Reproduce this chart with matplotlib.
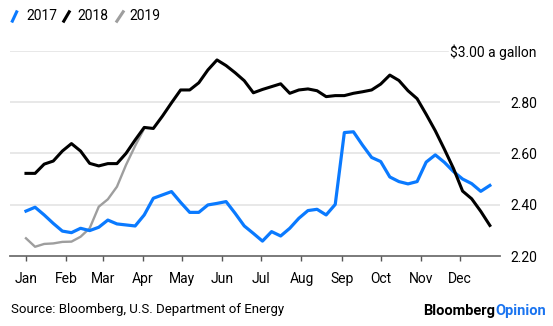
import numpy as np
import matplotlib
matplotlib.use('Agg')
import matplotlib.pyplot as plt
from matplotlib.lines import Line2D

plt.rcParams['font.family'] = ['Roboto', 'DejaVu Sans']

# weekly average prices, $ per gallon (week 0 = first week of Jan)
p2017 = [2.375, 2.390, 2.360, 2.327, 2.297, 2.291, 2.308, 2.299, 2.312, 2.340,
         2.325, 2.321, 2.317, 2.360, 2.425, 2.438, 2.451, 2.409, 2.370, 2.370,
         2.399, 2.405, 2.412, 2.366, 2.317, 2.288, 2.258, 2.295, 2.278, 2.308,
         2.347, 2.377, 2.382, 2.360, 2.401, 2.681, 2.684, 2.632, 2.584, 2.568,
         2.508, 2.490, 2.481, 2.490, 2.566, 2.594, 2.565, 2.529, 2.500, 2.482,
         2.452, 2.475]
p2018 = [2.522, 2.522, 2.558, 2.570, 2.609, 2.638, 2.609, 2.561, 2.551, 2.560,
         2.560, 2.600, 2.652, 2.701, 2.697, 2.745, 2.797, 2.847, 2.847, 2.875,
         2.925, 2.964, 2.942, 2.914, 2.883, 2.836, 2.849, 2.860, 2.871, 2.834,
         2.847, 2.851, 2.844, 2.821, 2.825, 2.825, 2.834, 2.840, 2.847, 2.870,
         2.905, 2.884, 2.844, 2.813, 2.752, 2.688, 2.616, 2.541, 2.453, 2.423,
         2.374, 2.319]
p2019 = [2.269, 2.236, 2.247, 2.249, 2.255, 2.256, 2.275, 2.308, 2.392, 2.421,
         2.470, 2.555, 2.629, 2.697]

months = ['Jan', 'Feb', 'Mar', 'Apr', 'May', 'Jun', 'Jul', 'Aug', 'Sep', 'Oct', 'Nov', 'Dec']
month_days = [0, 31, 59, 90, 120, 151, 181, 212, 243, 273, 304, 334]
yticks = [2.2, 2.4, 2.6, 2.8, 3.0]
ylabels = ['2.20', '2.40', '2.60', '2.80', '$3.00 a gallon']

c17, c18, c19 = '#0a7aff', '#000000', '#9e9e9e'

W, H = 553, 326
def px(x, y):
    return x / W, 1 - y / H

fig = plt.figure(figsize=(W / 100, H / 100), dpi=100)
ax = fig.add_axes([10 / W, (H - 256) / H, 490 / W, (256 - 50.7) / H])
ax.set_xlim(-12.3, 364.8)
ax.set_ylim(2.2, 3.0)

for t in yticks[1:-1]:
    ax.axhline(t, color='#e4e4e4', lw=1.2, zorder=0)
ax.axhline(3.0, xmax=0.894, color='#e4e4e4', lw=1.2, zorder=0)
ax.axhline(2.2, color='#707070', lw=1.3, zorder=1, clip_on=False)

ax.plot(np.arange(len(p2017)) * 7, p2017, color=c17, lw=2.3, zorder=3, clip_on=False)
ax.plot(np.arange(len(p2018)) * 7, p2018, color=c18, lw=2.2, zorder=4, clip_on=False)
ax.plot(np.arange(len(p2019)) * 7, p2019, color=c19, lw=1.7, zorder=2, clip_on=False)

for s in ax.spines.values():
    s.set_visible(False)

ax.set_xticks(month_days)
ax.set_xticklabels(months)
ax.tick_params(axis='x', length=3.6, width=1, color='#555555', pad=8, labelsize=10)

ax.yaxis.tick_right()
ax.set_yticks(yticks)
ax.set_yticklabels(ylabels)
ax.tick_params(axis='y', length=0, pad=26.6, labelsize=10)
for lbl in ax.get_yticklabels():
    lbl.set_horizontalalignment('right')

# legend with slash markers
for x0, x1, tx, col, lab in [(11.7, 17.3, 26.7, c17, '2017'),
                             (63, 70, 77.3, c18, '2018'),
                             (116, 124, 129.3, c19, '2019')]:
    (a, b), (c, d) = px(x0, 22.5), px(x1, 10.5)
    fig.add_artist(Line2D([a, c], [b, d], color=col, lw=2.2, solid_capstyle='butt'))
    fig.text(*px(tx, 16), lab, fontsize=10, va='center', ha='left')

fig.text(*px(11, 310), 'Source: Bloomberg, U.S. Department of Energy',
         fontsize=9.5, va='center', ha='left')
op = fig.text(*px(546, 311), 'Opinion', fontsize=10.5, fontweight='bold',
              color='#1a74f0', va='center', ha='right')
fig.canvas.draw()
bb = op.get_window_extent()
fig.text(bb.x0 / W, 1 - 311 / H, 'Bloomberg', fontsize=10.5, fontweight='bold',
         color='black', va='center', ha='right')

fig.savefig('out.png', dpi=100)
